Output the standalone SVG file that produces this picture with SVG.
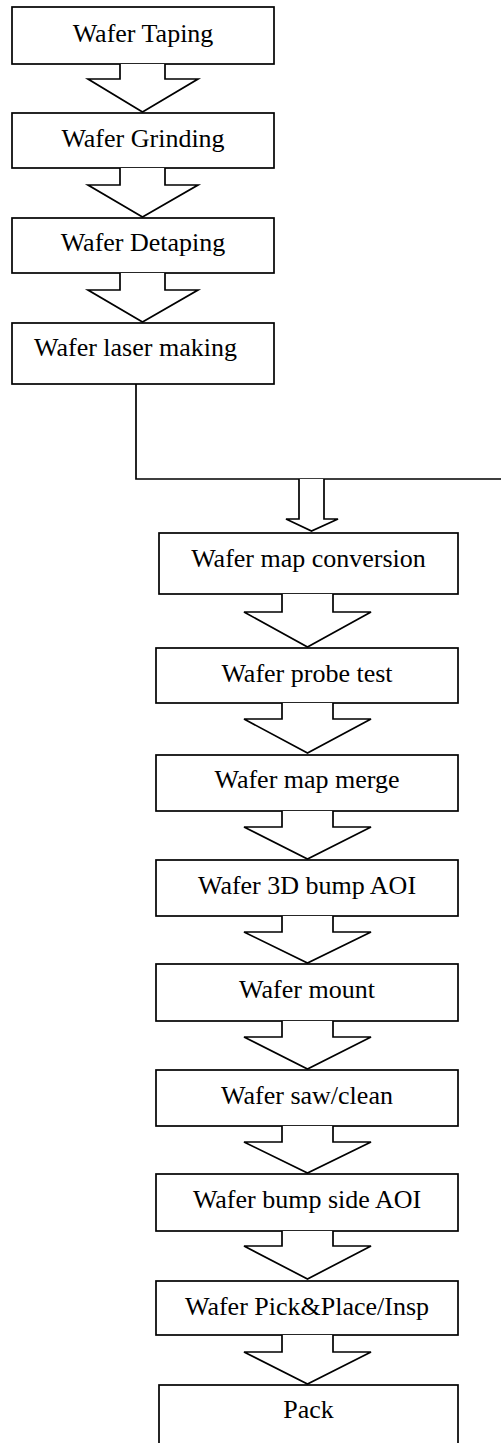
<svg xmlns="http://www.w3.org/2000/svg" width="502" height="1443" viewBox="0 0 502 1443">
<style>
.box{fill:#fff;stroke:#000;stroke-width:1.7}
.arr{fill:#fff;stroke:#000;stroke-width:1.7;stroke-linejoin:miter}
.ln{fill:none;stroke:#000;stroke-width:1.7}
text{font-family:"Liberation Serif","Times New Roman",serif;font-size:26px;fill:#000;text-anchor:middle}
</style>
<rect width="502" height="1443" fill="#fff"/>
<g id="n1"><rect class="box" x="12" y="7" width="262" height="57"/><text x="143" y="42">Wafer Taping</text></g>
<g id="n2"><rect class="box" x="12" y="113" width="262" height="55"/><text x="143" y="147">Wafer Grinding</text></g>
<g id="n3"><rect class="box" x="12" y="218" width="262" height="55"/><text x="143" y="251">Wafer Detaping</text></g>
<g id="n4"><rect class="box" x="12" y="323" width="262" height="61"/><text x="34" y="356" style="text-anchor:start">Wafer laser making</text></g>
<g id="n5"><rect class="box" x="159" y="533" width="299" height="61"/><text x="308.5" y="567">Wafer map conversion</text></g>
<g id="n6"><rect class="box" x="156" y="648" width="302" height="55"/><text x="307" y="682">Wafer probe test</text></g>
<g id="n7"><rect class="box" x="156" y="755" width="302" height="56"/><text x="307" y="788">Wafer map merge</text></g>
<g id="n8"><rect class="box" x="156" y="860" width="302" height="56"/><text x="307" y="894">Wafer 3D bump AOI</text></g>
<g id="n9"><rect class="box" x="156" y="964" width="302" height="57"/><text x="307" y="998">Wafer mount</text></g>
<g id="n10"><rect class="box" x="156" y="1070" width="302" height="56"/><text x="307" y="1104">Wafer saw/clean</text></g>
<g id="n11"><rect class="box" x="156" y="1174" width="302" height="57"/><text x="307" y="1208">Wafer bump side AOI</text></g>
<g id="n12"><rect class="box" x="156" y="1281" width="302" height="54"/><text x="307" y="1315">Wafer Pick&amp;Place/Insp</text></g>
<g id="n13"><rect class="box" x="159" y="1385" width="299" height="70"/><text x="308.5" y="1418">Pack</text></g>
<g id="connectors">
<path class="arr" d="M120,64 V79 H88 L142.5,112 L198,79 H165 V64"/>
<path class="arr" d="M120,168 V185 H88 L142.5,217 L198,185 H165 V168"/>
<path class="arr" d="M120,273 V290 H88 L142.5,322 L198,290 H165 V273"/>
<path class="ln" d="M136,384 V479 H501"/>
<path class="arr" d="M299,479 V519 H286 L311.5,531 L338,519 H324 V479"/>
<path class="arr" d="M282,594 V612 H244 L307.5,647 L371,612 H333 V594"/>
<path class="arr" d="M282,703 V719 H244 L307.5,753 L371,719 H333 V703"/>
<path class="arr" d="M282,811 V827 H244 L307.5,859 L371,827 H333 V811"/>
<path class="arr" d="M282,916 V932 H244 L307.5,963 L371,932 H333 V916"/>
<path class="arr" d="M282,1021 V1037 H244 L307.5,1069 L371,1037 H333 V1021"/>
<path class="arr" d="M282,1126 V1142 H244 L307.5,1173 L371,1142 H333 V1126"/>
<path class="arr" d="M282,1231 V1246 H244 L307.5,1279 L371,1246 H333 V1231"/>
<path class="arr" d="M282,1335 V1352 H244 L307.5,1384 L371,1352 H333 V1335"/>
</g>
</svg>
